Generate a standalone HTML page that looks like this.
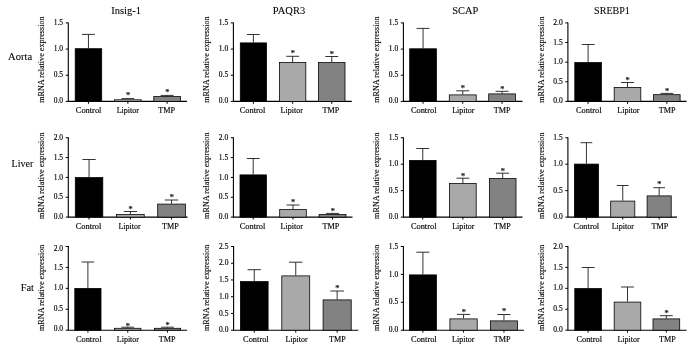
<!DOCTYPE html>
<html><head><meta charset="utf-8"><title>mRNA relative expression</title>
<style>
html,body{margin:0;padding:0;background:#fff;}
svg{display:block;}
text{font-family:"Liberation Serif",serif;fill:#000;stroke:#000;stroke-width:0.08px;}
.tt{font-size:10.8px;}
.rw{font-size:10.8px;}
.tk{font-size:7.5px;stroke-width:0.15px;}
.xl{font-size:8.6px;stroke-width:0.15px;}
.yl{font-size:7.9px;stroke-width:0.12px;}
.st{font-size:8.4px;stroke-width:0.25px;fill:#222;stroke:#222;}
</style></head>
<body>
<svg width="693" height="351" viewBox="0 0 693 351">
<rect width="693" height="351" fill="#fff"/>
<path d="M68.3 22.4V101.4H187.1" fill="none" stroke="#000" stroke-width="1.1"/>
<path d="M65.7 101.40H68.3" stroke="#000" stroke-width="1"/>
<text x="63.099999999999994" y="103.10" text-anchor="end" class="tk">0.0</text>
<path d="M65.7 75.23H68.3" stroke="#000" stroke-width="1"/>
<text x="63.099999999999994" y="77.33" text-anchor="end" class="tk">0.5</text>
<path d="M65.7 49.07H68.3" stroke="#000" stroke-width="1"/>
<text x="63.099999999999994" y="51.17" text-anchor="end" class="tk">1.0</text>
<path d="M65.7 22.90H68.3" stroke="#000" stroke-width="1"/>
<text x="63.099999999999994" y="25.40" text-anchor="end" class="tk">1.5</text>
<path d="M88.45 48.3V34.4M82.03 34.4H94.87" stroke="#1c1c1c" stroke-width="0.9" fill="none"/>
<rect x="75.19" y="48.69" width="26.52" height="52.71" fill="#000000" stroke="#000" stroke-width="0.78"/>
<path d="M88.45 101.4V103.80000000000001" stroke="#000" stroke-width="1"/>
<text x="88.60" y="113" text-anchor="middle" class="xl" textLength="25.6" lengthAdjust="spacingAndGlyphs">Control</text>
<path d="M127.85 99.4V98.6M121.39 98.6H134.31" stroke="#1c1c1c" stroke-width="0.9" fill="none"/>
<rect x="114.49" y="99.79" width="26.72" height="1.61" fill="#a9a9a9" stroke="#000" stroke-width="0.78"/>
<path d="M127.85 101.4V103.80000000000001" stroke="#000" stroke-width="1"/>
<text x="127.80" y="113" text-anchor="middle" class="xl" textLength="22.2" lengthAdjust="spacingAndGlyphs">Lipitor</text>
<text x="128.05" y="98.10" text-anchor="middle" class="st">*</text>
<path d="M167.10 96.2V95.4M160.66 95.4H173.54" stroke="#1c1c1c" stroke-width="0.9" fill="none"/>
<rect x="153.79" y="96.59" width="26.62" height="4.81" fill="#828282" stroke="#000" stroke-width="0.78"/>
<path d="M167.10 101.4V103.80000000000001" stroke="#000" stroke-width="1"/>
<text x="166.70" y="113" text-anchor="middle" class="xl" textLength="16.8" lengthAdjust="spacingAndGlyphs">TMP</text>
<text x="167.30" y="95.20" text-anchor="middle" class="st">*</text>
<text transform="translate(44.20 59.60) rotate(-90)" text-anchor="middle" class="yl" textLength="86.4" lengthAdjust="spacingAndGlyphs">mRNA relative expression</text>
<text x="126.1" y="13.8" text-anchor="middle" class="tt" textLength="29.8" lengthAdjust="spacingAndGlyphs">Insig-1</text>
<path d="M233.4 22.4V101.4H351.8" fill="none" stroke="#000" stroke-width="1.1"/>
<path d="M230.8 101.40H233.4" stroke="#000" stroke-width="1"/>
<text x="228.20000000000002" y="103.10" text-anchor="end" class="tk">0.0</text>
<path d="M230.8 75.23H233.4" stroke="#000" stroke-width="1"/>
<text x="228.20000000000002" y="77.33" text-anchor="end" class="tk">0.5</text>
<path d="M230.8 49.07H233.4" stroke="#000" stroke-width="1"/>
<text x="228.20000000000002" y="51.17" text-anchor="end" class="tk">1.0</text>
<path d="M230.8 22.90H233.4" stroke="#000" stroke-width="1"/>
<text x="228.20000000000002" y="25.40" text-anchor="end" class="tk">1.5</text>
<path d="M253.40 42.5V34.5M247.05 34.5H259.74" stroke="#1c1c1c" stroke-width="0.9" fill="none"/>
<rect x="240.29" y="42.89" width="26.22" height="58.51" fill="#000000" stroke="#000" stroke-width="0.78"/>
<path d="M253.40 101.4V103.80000000000001" stroke="#000" stroke-width="1"/>
<text x="252.50" y="113" text-anchor="middle" class="xl" textLength="25.6" lengthAdjust="spacingAndGlyphs">Control</text>
<path d="M292.65 62.2V56.3M286.28 56.3H299.02" stroke="#1c1c1c" stroke-width="0.9" fill="none"/>
<rect x="279.49" y="62.59" width="26.32" height="38.81" fill="#a9a9a9" stroke="#000" stroke-width="0.78"/>
<path d="M292.65 101.4V103.80000000000001" stroke="#000" stroke-width="1"/>
<text x="291.70" y="113" text-anchor="middle" class="xl" textLength="22.2" lengthAdjust="spacingAndGlyphs">Lipitor</text>
<text x="292.85" y="56.20" text-anchor="middle" class="st">*</text>
<path d="M331.75 62.2V56.5M325.33 56.5H338.17" stroke="#1c1c1c" stroke-width="0.9" fill="none"/>
<rect x="318.49" y="62.59" width="26.52" height="38.81" fill="#828282" stroke="#000" stroke-width="0.78"/>
<path d="M331.75 101.4V103.80000000000001" stroke="#000" stroke-width="1"/>
<text x="330.80" y="113" text-anchor="middle" class="xl" textLength="16.8" lengthAdjust="spacingAndGlyphs">TMP</text>
<text x="331.95" y="56.80" text-anchor="middle" class="st">*</text>
<text transform="translate(209.20 59.60) rotate(-90)" text-anchor="middle" class="yl" textLength="86.4" lengthAdjust="spacingAndGlyphs">mRNA relative expression</text>
<text x="289.0" y="13.6" text-anchor="middle" class="tt" textLength="32.3" lengthAdjust="spacingAndGlyphs">PAQR3</text>
<path d="M403.4 22.4V101.4H522.5" fill="none" stroke="#000" stroke-width="1.1"/>
<path d="M400.79999999999995 101.40H403.4" stroke="#000" stroke-width="1"/>
<text x="398.2" y="103.10" text-anchor="end" class="tk">0.0</text>
<path d="M400.79999999999995 75.23H403.4" stroke="#000" stroke-width="1"/>
<text x="398.2" y="77.33" text-anchor="end" class="tk">0.5</text>
<path d="M400.79999999999995 49.07H403.4" stroke="#000" stroke-width="1"/>
<text x="398.2" y="51.17" text-anchor="end" class="tk">1.0</text>
<path d="M400.79999999999995 22.90H403.4" stroke="#000" stroke-width="1"/>
<text x="398.2" y="25.40" text-anchor="end" class="tk">1.5</text>
<path d="M423.05 48.4V28.4M416.59 28.4H429.51" stroke="#1c1c1c" stroke-width="0.9" fill="none"/>
<rect x="409.69" y="48.79" width="26.72" height="52.61" fill="#000000" stroke="#000" stroke-width="0.78"/>
<path d="M423.05 101.4V103.80000000000001" stroke="#000" stroke-width="1"/>
<text x="423.70" y="113" text-anchor="middle" class="xl" textLength="25.6" lengthAdjust="spacingAndGlyphs">Control</text>
<path d="M462.75 94.5V90.8M456.24 90.8H469.26" stroke="#1c1c1c" stroke-width="0.9" fill="none"/>
<rect x="449.29" y="94.89" width="26.92" height="6.51" fill="#a9a9a9" stroke="#000" stroke-width="0.78"/>
<path d="M462.75 101.4V103.80000000000001" stroke="#000" stroke-width="1"/>
<text x="463.30" y="113" text-anchor="middle" class="xl" textLength="22.2" lengthAdjust="spacingAndGlyphs">Lipitor</text>
<text x="462.95" y="91.20" text-anchor="middle" class="st">*</text>
<path d="M502.05 93.5V91.3M495.59 91.3H508.51" stroke="#1c1c1c" stroke-width="0.9" fill="none"/>
<rect x="488.69" y="93.89" width="26.72" height="7.51" fill="#828282" stroke="#000" stroke-width="0.78"/>
<path d="M502.05 101.4V103.80000000000001" stroke="#000" stroke-width="1"/>
<text x="502.10" y="113" text-anchor="middle" class="xl" textLength="16.8" lengthAdjust="spacingAndGlyphs">TMP</text>
<text x="502.25" y="91.80" text-anchor="middle" class="st">*</text>
<text transform="translate(379.20 59.60) rotate(-90)" text-anchor="middle" class="yl" textLength="86.4" lengthAdjust="spacingAndGlyphs">mRNA relative expression</text>
<text x="465.2" y="14.2" text-anchor="middle" class="tt" textLength="26" lengthAdjust="spacingAndGlyphs">SCAP</text>
<path d="M567.9 22.4V101.4H686.6" fill="none" stroke="#000" stroke-width="1.1"/>
<path d="M565.3 101.40H567.9" stroke="#000" stroke-width="1"/>
<text x="562.6999999999999" y="103.10" text-anchor="end" class="tk">0.0</text>
<path d="M565.3 81.78H567.9" stroke="#000" stroke-width="1"/>
<text x="562.6999999999999" y="83.88" text-anchor="end" class="tk">0.5</text>
<path d="M565.3 62.15H567.9" stroke="#000" stroke-width="1"/>
<text x="562.6999999999999" y="64.25" text-anchor="end" class="tk">1.0</text>
<path d="M565.3 42.53H567.9" stroke="#000" stroke-width="1"/>
<text x="562.6999999999999" y="44.63" text-anchor="end" class="tk">1.5</text>
<path d="M565.3 22.90H567.9" stroke="#000" stroke-width="1"/>
<text x="562.6999999999999" y="25.40" text-anchor="end" class="tk">2.0</text>
<path d="M588.10 62.2V44.5M581.66 44.5H594.54" stroke="#1c1c1c" stroke-width="0.9" fill="none"/>
<rect x="574.79" y="62.59" width="26.62" height="38.81" fill="#000000" stroke="#000" stroke-width="0.78"/>
<path d="M588.10 101.4V103.80000000000001" stroke="#000" stroke-width="1"/>
<text x="588.80" y="113" text-anchor="middle" class="xl" textLength="25.6" lengthAdjust="spacingAndGlyphs">Control</text>
<path d="M627.50 87V82.5M621.06 82.5H633.94" stroke="#1c1c1c" stroke-width="0.9" fill="none"/>
<rect x="614.19" y="87.39" width="26.62" height="14.01" fill="#a9a9a9" stroke="#000" stroke-width="0.78"/>
<path d="M627.50 101.4V103.80000000000001" stroke="#000" stroke-width="1"/>
<text x="628.40" y="113" text-anchor="middle" class="xl" textLength="22.2" lengthAdjust="spacingAndGlyphs">Lipitor</text>
<text x="627.70" y="82.60" text-anchor="middle" class="st">*</text>
<path d="M666.85 94.3V93.4M660.43 93.4H673.27" stroke="#1c1c1c" stroke-width="0.9" fill="none"/>
<rect x="653.59" y="94.69" width="26.52" height="6.71" fill="#828282" stroke="#000" stroke-width="0.78"/>
<path d="M666.85 101.4V103.80000000000001" stroke="#000" stroke-width="1"/>
<text x="667.10" y="113" text-anchor="middle" class="xl" textLength="16.8" lengthAdjust="spacingAndGlyphs">TMP</text>
<text x="667.05" y="93.90" text-anchor="middle" class="st">*</text>
<text transform="translate(544.20 59.60) rotate(-90)" text-anchor="middle" class="yl" textLength="86.4" lengthAdjust="spacingAndGlyphs">mRNA relative expression</text>
<text x="612" y="13.6" text-anchor="middle" class="tt" textLength="35.8" lengthAdjust="spacingAndGlyphs">SREBP1</text>
<path d="M68.3 137.25V217.1H187.6" fill="none" stroke="#000" stroke-width="1.1"/>
<path d="M65.7 217.10H68.3" stroke="#000" stroke-width="1"/>
<text x="63.099999999999994" y="218.80" text-anchor="end" class="tk">0.0</text>
<path d="M65.7 197.26H68.3" stroke="#000" stroke-width="1"/>
<text x="63.099999999999994" y="199.36" text-anchor="end" class="tk">0.5</text>
<path d="M65.7 177.43H68.3" stroke="#000" stroke-width="1"/>
<text x="63.099999999999994" y="179.53" text-anchor="end" class="tk">1.0</text>
<path d="M65.7 157.59H68.3" stroke="#000" stroke-width="1"/>
<text x="63.099999999999994" y="159.69" text-anchor="end" class="tk">1.5</text>
<path d="M65.7 137.75H68.3" stroke="#000" stroke-width="1"/>
<text x="63.099999999999994" y="140.25" text-anchor="end" class="tk">2.0</text>
<path d="M89.05 177.2V159.5M82.40 159.5H95.70" stroke="#1c1c1c" stroke-width="0.9" fill="none"/>
<rect x="75.29" y="177.59" width="27.52" height="39.51" fill="#000000" stroke="#000" stroke-width="0.78"/>
<path d="M89.05 217.1V219.5" stroke="#000" stroke-width="1"/>
<text x="88.50" y="228.7" text-anchor="middle" class="xl" textLength="25.6" lengthAdjust="spacingAndGlyphs">Control</text>
<path d="M130.40 214.2V211.5M123.73 211.5H137.07" stroke="#1c1c1c" stroke-width="0.9" fill="none"/>
<rect x="116.59" y="214.59" width="27.62" height="2.51" fill="#a9a9a9" stroke="#000" stroke-width="0.78"/>
<path d="M130.40 217.1V219.5" stroke="#000" stroke-width="1"/>
<text x="129.50" y="228.7" text-anchor="middle" class="xl" textLength="22.2" lengthAdjust="spacingAndGlyphs">Lipitor</text>
<text x="130.60" y="211.60" text-anchor="middle" class="st">*</text>
<path d="M171.55 203.7V200M164.85 200H178.25" stroke="#1c1c1c" stroke-width="0.9" fill="none"/>
<rect x="157.69" y="204.09" width="27.72" height="13.01" fill="#828282" stroke="#000" stroke-width="0.78"/>
<path d="M171.55 217.1V219.5" stroke="#000" stroke-width="1"/>
<text x="170.30" y="228.7" text-anchor="middle" class="xl" textLength="16.8" lengthAdjust="spacingAndGlyphs">TMP</text>
<text x="171.75" y="200.40" text-anchor="middle" class="st">*</text>
<text transform="translate(44.20 175.70) rotate(-90)" text-anchor="middle" class="yl" textLength="86.4" lengthAdjust="spacingAndGlyphs">mRNA relative expression</text>
<path d="M233.4 137.25V217.1H352.5" fill="none" stroke="#000" stroke-width="1.1"/>
<path d="M230.8 217.10H233.4" stroke="#000" stroke-width="1"/>
<text x="228.20000000000002" y="218.80" text-anchor="end" class="tk">0.0</text>
<path d="M230.8 197.26H233.4" stroke="#000" stroke-width="1"/>
<text x="228.20000000000002" y="199.36" text-anchor="end" class="tk">0.5</text>
<path d="M230.8 177.43H233.4" stroke="#000" stroke-width="1"/>
<text x="228.20000000000002" y="179.53" text-anchor="end" class="tk">1.0</text>
<path d="M230.8 157.59H233.4" stroke="#000" stroke-width="1"/>
<text x="228.20000000000002" y="159.69" text-anchor="end" class="tk">1.5</text>
<path d="M230.8 137.75H233.4" stroke="#000" stroke-width="1"/>
<text x="228.20000000000002" y="140.25" text-anchor="end" class="tk">2.0</text>
<path d="M253.20 174.5V158.5M246.81 158.5H259.59" stroke="#1c1c1c" stroke-width="0.9" fill="none"/>
<rect x="239.99" y="174.89" width="26.42" height="42.21" fill="#000000" stroke="#000" stroke-width="0.78"/>
<path d="M253.20 217.1V219.5" stroke="#000" stroke-width="1"/>
<text x="252.50" y="228.7" text-anchor="middle" class="xl" textLength="25.6" lengthAdjust="spacingAndGlyphs">Control</text>
<path d="M293.00 209.2V205M286.56 205H299.44" stroke="#1c1c1c" stroke-width="0.9" fill="none"/>
<rect x="279.69" y="209.59" width="26.62" height="7.51" fill="#a9a9a9" stroke="#000" stroke-width="0.78"/>
<path d="M293.00 217.1V219.5" stroke="#000" stroke-width="1"/>
<text x="291.70" y="228.7" text-anchor="middle" class="xl" textLength="22.2" lengthAdjust="spacingAndGlyphs">Lipitor</text>
<text x="293.20" y="205.40" text-anchor="middle" class="st">*</text>
<path d="M332.55 214.2V213.4M326.04 213.4H339.06" stroke="#1c1c1c" stroke-width="0.9" fill="none"/>
<rect x="319.09" y="214.59" width="26.92" height="2.51" fill="#828282" stroke="#000" stroke-width="0.78"/>
<path d="M332.55 217.1V219.5" stroke="#000" stroke-width="1"/>
<text x="330.80" y="228.7" text-anchor="middle" class="xl" textLength="16.8" lengthAdjust="spacingAndGlyphs">TMP</text>
<text x="332.75" y="213.60" text-anchor="middle" class="st">*</text>
<text transform="translate(209.20 175.70) rotate(-90)" text-anchor="middle" class="yl" textLength="86.4" lengthAdjust="spacingAndGlyphs">mRNA relative expression</text>
<path d="M403.4 137.25V217.1H522.5" fill="none" stroke="#000" stroke-width="1.1"/>
<path d="M400.79999999999995 217.10H403.4" stroke="#000" stroke-width="1"/>
<text x="398.2" y="218.80" text-anchor="end" class="tk">0.0</text>
<path d="M400.79999999999995 190.65H403.4" stroke="#000" stroke-width="1"/>
<text x="398.2" y="192.75" text-anchor="end" class="tk">0.5</text>
<path d="M400.79999999999995 164.20H403.4" stroke="#000" stroke-width="1"/>
<text x="398.2" y="166.30" text-anchor="end" class="tk">1.0</text>
<path d="M400.79999999999995 137.75H403.4" stroke="#000" stroke-width="1"/>
<text x="398.2" y="140.25" text-anchor="end" class="tk">1.5</text>
<path d="M422.75 160V148.5M416.29 148.5H429.21" stroke="#1c1c1c" stroke-width="0.9" fill="none"/>
<rect x="409.39" y="160.39" width="26.72" height="56.71" fill="#000000" stroke="#000" stroke-width="0.78"/>
<path d="M422.75 217.1V219.5" stroke="#000" stroke-width="1"/>
<text x="423.70" y="228.7" text-anchor="middle" class="xl" textLength="25.6" lengthAdjust="spacingAndGlyphs">Control</text>
<path d="M462.90 183.2V178.2M456.46 178.2H469.34" stroke="#1c1c1c" stroke-width="0.9" fill="none"/>
<rect x="449.59" y="183.59" width="26.62" height="33.51" fill="#a9a9a9" stroke="#000" stroke-width="0.78"/>
<path d="M462.90 217.1V219.5" stroke="#000" stroke-width="1"/>
<text x="463.30" y="228.7" text-anchor="middle" class="xl" textLength="22.2" lengthAdjust="spacingAndGlyphs">Lipitor</text>
<text x="463.10" y="178.60" text-anchor="middle" class="st">*</text>
<path d="M502.70 178.2V173.2M496.26 173.2H509.14" stroke="#1c1c1c" stroke-width="0.9" fill="none"/>
<rect x="489.39" y="178.59" width="26.62" height="38.51" fill="#828282" stroke="#000" stroke-width="0.78"/>
<path d="M502.70 217.1V219.5" stroke="#000" stroke-width="1"/>
<text x="502.30" y="228.7" text-anchor="middle" class="xl" textLength="16.8" lengthAdjust="spacingAndGlyphs">TMP</text>
<text x="502.90" y="173.60" text-anchor="middle" class="st">*</text>
<text transform="translate(379.20 175.70) rotate(-90)" text-anchor="middle" class="yl" textLength="86.4" lengthAdjust="spacingAndGlyphs">mRNA relative expression</text>
<path d="M567.9 137.25V217.1H677" fill="none" stroke="#000" stroke-width="1.1"/>
<path d="M565.3 217.10H567.9" stroke="#000" stroke-width="1"/>
<text x="562.6999999999999" y="218.80" text-anchor="end" class="tk">0.0</text>
<path d="M565.3 190.65H567.9" stroke="#000" stroke-width="1"/>
<text x="562.6999999999999" y="192.75" text-anchor="end" class="tk">0.5</text>
<path d="M565.3 164.20H567.9" stroke="#000" stroke-width="1"/>
<text x="562.6999999999999" y="166.30" text-anchor="end" class="tk">1.0</text>
<path d="M565.3 137.75H567.9" stroke="#000" stroke-width="1"/>
<text x="562.6999999999999" y="140.25" text-anchor="end" class="tk">1.5</text>
<path d="M586.45 163.7V142.7M580.60 142.7H592.30" stroke="#1c1c1c" stroke-width="0.9" fill="none"/>
<rect x="574.39" y="164.09" width="24.12" height="53.01" fill="#000000" stroke="#000" stroke-width="0.78"/>
<path d="M586.45 217.1V219.5" stroke="#000" stroke-width="1"/>
<text x="586.40" y="228.7" text-anchor="middle" class="xl" textLength="25.6" lengthAdjust="spacingAndGlyphs">Control</text>
<path d="M622.75 200.7V185.5M616.90 185.5H628.60" stroke="#1c1c1c" stroke-width="0.9" fill="none"/>
<rect x="610.69" y="201.09" width="24.12" height="16.01" fill="#a9a9a9" stroke="#000" stroke-width="0.78"/>
<path d="M622.75 217.1V219.5" stroke="#000" stroke-width="1"/>
<text x="622.80" y="228.7" text-anchor="middle" class="xl" textLength="22.2" lengthAdjust="spacingAndGlyphs">Lipitor</text>
<path d="M659.15 195.5V187.7M653.30 187.7H665.00" stroke="#1c1c1c" stroke-width="0.9" fill="none"/>
<rect x="647.09" y="195.89" width="24.12" height="21.21" fill="#828282" stroke="#000" stroke-width="0.78"/>
<path d="M659.15 217.1V219.5" stroke="#000" stroke-width="1"/>
<text x="659.90" y="228.7" text-anchor="middle" class="xl" textLength="16.8" lengthAdjust="spacingAndGlyphs">TMP</text>
<text x="659.35" y="187.40" text-anchor="middle" class="st">*</text>
<text transform="translate(544.20 175.70) rotate(-90)" text-anchor="middle" class="yl" textLength="86.4" lengthAdjust="spacingAndGlyphs">mRNA relative expression</text>
<path d="M68.3 246.0V330.2H187.1" fill="none" stroke="#000" stroke-width="1.1"/>
<path d="M65.7 330.20H68.3" stroke="#000" stroke-width="1"/>
<text x="63.099999999999994" y="331.20" text-anchor="end" class="tk">0.0</text>
<path d="M65.7 309.27H68.3" stroke="#000" stroke-width="1"/>
<text x="63.099999999999994" y="311.38" text-anchor="end" class="tk">0.5</text>
<path d="M65.7 288.35H68.3" stroke="#000" stroke-width="1"/>
<text x="63.099999999999994" y="290.45" text-anchor="end" class="tk">1.0</text>
<path d="M65.7 267.43H68.3" stroke="#000" stroke-width="1"/>
<text x="63.099999999999994" y="269.53" text-anchor="end" class="tk">1.5</text>
<path d="M65.7 246.50H68.3" stroke="#000" stroke-width="1"/>
<text x="63.099999999999994" y="250.90" text-anchor="end" class="tk">2.0</text>
<path d="M87.90 288V262M81.56 262H94.25" stroke="#1c1c1c" stroke-width="0.9" fill="none"/>
<rect x="74.79" y="288.39" width="26.22" height="41.81" fill="#000000" stroke="#000" stroke-width="0.78"/>
<path d="M87.90 330.2V332.59999999999997" stroke="#000" stroke-width="1"/>
<text x="88.70" y="342.2" text-anchor="middle" class="xl" textLength="25.6" lengthAdjust="spacingAndGlyphs">Control</text>
<path d="M127.75 327.9V327.2M121.38 327.2H134.12" stroke="#1c1c1c" stroke-width="0.9" fill="none"/>
<rect x="114.59" y="328.29" width="26.32" height="1.91" fill="#a9a9a9" stroke="#000" stroke-width="0.78"/>
<path d="M127.75 330.2V332.59999999999997" stroke="#000" stroke-width="1"/>
<text x="127.90" y="342.2" text-anchor="middle" class="xl" textLength="22.2" lengthAdjust="spacingAndGlyphs">Lipitor</text>
<text x="127.95" y="328.50" text-anchor="middle" class="st">*</text>
<path d="M167.50 327.9V327.2M161.16 327.2H173.84" stroke="#1c1c1c" stroke-width="0.9" fill="none"/>
<rect x="154.39" y="328.29" width="26.22" height="1.91" fill="#828282" stroke="#000" stroke-width="0.78"/>
<path d="M167.50 330.2V332.59999999999997" stroke="#000" stroke-width="1"/>
<text x="167.10" y="342.2" text-anchor="middle" class="xl" textLength="16.8" lengthAdjust="spacingAndGlyphs">TMP</text>
<text x="167.70" y="327.90" text-anchor="middle" class="st">*</text>
<text transform="translate(44.20 287.80) rotate(-90)" text-anchor="middle" class="yl" textLength="86.4" lengthAdjust="spacingAndGlyphs">mRNA relative expression</text>
<path d="M233.6 246.0V330.2H358.2" fill="none" stroke="#000" stroke-width="1.1"/>
<path d="M231.0 330.20H233.6" stroke="#000" stroke-width="1"/>
<text x="228.4" y="331.90" text-anchor="end" class="tk">0.0</text>
<path d="M231.0 313.46H233.6" stroke="#000" stroke-width="1"/>
<text x="228.4" y="315.56" text-anchor="end" class="tk">0.5</text>
<path d="M231.0 296.72H233.6" stroke="#000" stroke-width="1"/>
<text x="228.4" y="298.82" text-anchor="end" class="tk">1.0</text>
<path d="M231.0 279.98H233.6" stroke="#000" stroke-width="1"/>
<text x="228.4" y="282.08" text-anchor="end" class="tk">1.5</text>
<path d="M231.0 263.24H233.6" stroke="#000" stroke-width="1"/>
<text x="228.4" y="265.34" text-anchor="end" class="tk">2.0</text>
<path d="M231.0 246.50H233.6" stroke="#000" stroke-width="1"/>
<text x="228.4" y="249.00" text-anchor="end" class="tk">2.5</text>
<path d="M254.25 281.2V269.7M247.55 269.7H260.95" stroke="#1c1c1c" stroke-width="0.9" fill="none"/>
<rect x="240.39" y="281.59" width="27.72" height="48.61" fill="#000000" stroke="#000" stroke-width="0.78"/>
<path d="M254.25 330.2V332.59999999999997" stroke="#000" stroke-width="1"/>
<text x="255.90" y="342.2" text-anchor="middle" class="xl" textLength="25.6" lengthAdjust="spacingAndGlyphs">Control</text>
<path d="M295.75 275.5V262.2M289.01 262.2H302.49" stroke="#1c1c1c" stroke-width="0.9" fill="none"/>
<rect x="281.79" y="275.89" width="27.92" height="54.31" fill="#a9a9a9" stroke="#000" stroke-width="0.78"/>
<path d="M295.75 330.2V332.59999999999997" stroke="#000" stroke-width="1"/>
<text x="296.50" y="342.2" text-anchor="middle" class="xl" textLength="22.2" lengthAdjust="spacingAndGlyphs">Lipitor</text>
<path d="M337.15 299.5V291M330.36 291H343.94" stroke="#1c1c1c" stroke-width="0.9" fill="none"/>
<rect x="323.09" y="299.89" width="28.12" height="30.31" fill="#828282" stroke="#000" stroke-width="0.78"/>
<path d="M337.15 330.2V332.59999999999997" stroke="#000" stroke-width="1"/>
<text x="337.30" y="342.2" text-anchor="middle" class="xl" textLength="16.8" lengthAdjust="spacingAndGlyphs">TMP</text>
<text x="337.35" y="290.60" text-anchor="middle" class="st">*</text>
<text transform="translate(209.20 287.80) rotate(-90)" text-anchor="middle" class="yl" textLength="86.4" lengthAdjust="spacingAndGlyphs">mRNA relative expression</text>
<path d="M403.4 246.0V330.2H524" fill="none" stroke="#000" stroke-width="1.1"/>
<path d="M400.79999999999995 330.20H403.4" stroke="#000" stroke-width="1"/>
<text x="398.2" y="331.90" text-anchor="end" class="tk">0.0</text>
<path d="M400.79999999999995 302.30H403.4" stroke="#000" stroke-width="1"/>
<text x="398.2" y="304.40" text-anchor="end" class="tk">0.5</text>
<path d="M400.79999999999995 274.40H403.4" stroke="#000" stroke-width="1"/>
<text x="398.2" y="276.50" text-anchor="end" class="tk">1.0</text>
<path d="M400.79999999999995 246.50H403.4" stroke="#000" stroke-width="1"/>
<text x="398.2" y="249.00" text-anchor="end" class="tk">1.5</text>
<path d="M422.90 274.5V252.2M416.37 252.2H429.43" stroke="#1c1c1c" stroke-width="0.9" fill="none"/>
<rect x="409.39" y="274.89" width="27.02" height="55.31" fill="#000000" stroke="#000" stroke-width="0.78"/>
<path d="M422.90 330.2V332.59999999999997" stroke="#000" stroke-width="1"/>
<text x="423.90" y="342.2" text-anchor="middle" class="xl" textLength="25.6" lengthAdjust="spacingAndGlyphs">Control</text>
<path d="M463.55 318.5V314.4M456.95 314.4H470.15" stroke="#1c1c1c" stroke-width="0.9" fill="none"/>
<rect x="449.89" y="318.89" width="27.32" height="11.31" fill="#a9a9a9" stroke="#000" stroke-width="0.78"/>
<path d="M463.55 330.2V332.59999999999997" stroke="#000" stroke-width="1"/>
<text x="463.20" y="342.2" text-anchor="middle" class="xl" textLength="22.2" lengthAdjust="spacingAndGlyphs">Lipitor</text>
<text x="463.75" y="314.80" text-anchor="middle" class="st">*</text>
<path d="M503.95 320.5V314.5M497.39 314.5H510.51" stroke="#1c1c1c" stroke-width="0.9" fill="none"/>
<rect x="490.39" y="320.89" width="27.12" height="9.31" fill="#828282" stroke="#000" stroke-width="0.78"/>
<path d="M503.95 330.2V332.59999999999997" stroke="#000" stroke-width="1"/>
<text x="502.10" y="342.2" text-anchor="middle" class="xl" textLength="16.8" lengthAdjust="spacingAndGlyphs">TMP</text>
<text x="504.15" y="314.10" text-anchor="middle" class="st">*</text>
<text transform="translate(379.20 287.80) rotate(-90)" text-anchor="middle" class="yl" textLength="86.4" lengthAdjust="spacingAndGlyphs">mRNA relative expression</text>
<path d="M567.9 246.0V330.2H686.6" fill="none" stroke="#000" stroke-width="1.1"/>
<path d="M565.3 330.20H567.9" stroke="#000" stroke-width="1"/>
<text x="562.6999999999999" y="331.90" text-anchor="end" class="tk">0.0</text>
<path d="M565.3 309.27H567.9" stroke="#000" stroke-width="1"/>
<text x="562.6999999999999" y="311.38" text-anchor="end" class="tk">0.5</text>
<path d="M565.3 288.35H567.9" stroke="#000" stroke-width="1"/>
<text x="562.6999999999999" y="290.45" text-anchor="end" class="tk">1.0</text>
<path d="M565.3 267.43H567.9" stroke="#000" stroke-width="1"/>
<text x="562.6999999999999" y="269.53" text-anchor="end" class="tk">1.5</text>
<path d="M565.3 246.50H567.9" stroke="#000" stroke-width="1"/>
<text x="562.6999999999999" y="249.00" text-anchor="end" class="tk">2.0</text>
<path d="M588.10 288.2V267.5M581.66 267.5H594.54" stroke="#1c1c1c" stroke-width="0.9" fill="none"/>
<rect x="574.79" y="288.59" width="26.62" height="41.61" fill="#000000" stroke="#000" stroke-width="0.78"/>
<path d="M588.10 330.2V332.59999999999997" stroke="#000" stroke-width="1"/>
<text x="589.20" y="342.2" text-anchor="middle" class="xl" textLength="25.6" lengthAdjust="spacingAndGlyphs">Control</text>
<path d="M627.50 301.7V287M621.06 287H633.94" stroke="#1c1c1c" stroke-width="0.9" fill="none"/>
<rect x="614.19" y="302.09" width="26.62" height="28.11" fill="#a9a9a9" stroke="#000" stroke-width="0.78"/>
<path d="M627.50 330.2V332.59999999999997" stroke="#000" stroke-width="1"/>
<text x="628.50" y="342.2" text-anchor="middle" class="xl" textLength="22.2" lengthAdjust="spacingAndGlyphs">Lipitor</text>
<path d="M666.35 318.5V315.7M659.89 315.7H672.81" stroke="#1c1c1c" stroke-width="0.9" fill="none"/>
<rect x="652.99" y="318.89" width="26.72" height="11.31" fill="#828282" stroke="#000" stroke-width="0.78"/>
<path d="M666.35 330.2V332.59999999999997" stroke="#000" stroke-width="1"/>
<text x="667.30" y="342.2" text-anchor="middle" class="xl" textLength="16.8" lengthAdjust="spacingAndGlyphs">TMP</text>
<text x="666.55" y="315.60" text-anchor="middle" class="st">*</text>
<text transform="translate(544.20 287.80) rotate(-90)" text-anchor="middle" class="yl" textLength="86.4" lengthAdjust="spacingAndGlyphs">mRNA relative expression</text>
<text x="20.1" y="59.8" text-anchor="middle" class="rw" textLength="24" lengthAdjust="spacingAndGlyphs">Aorta</text>
<text x="22.4" y="167.2" text-anchor="middle" class="rw" textLength="21.8" lengthAdjust="spacingAndGlyphs">Liver</text>
<text x="27.3" y="290.7" text-anchor="middle" class="rw" textLength="13.2" lengthAdjust="spacingAndGlyphs">Fat</text>
</svg>
</body></html>
